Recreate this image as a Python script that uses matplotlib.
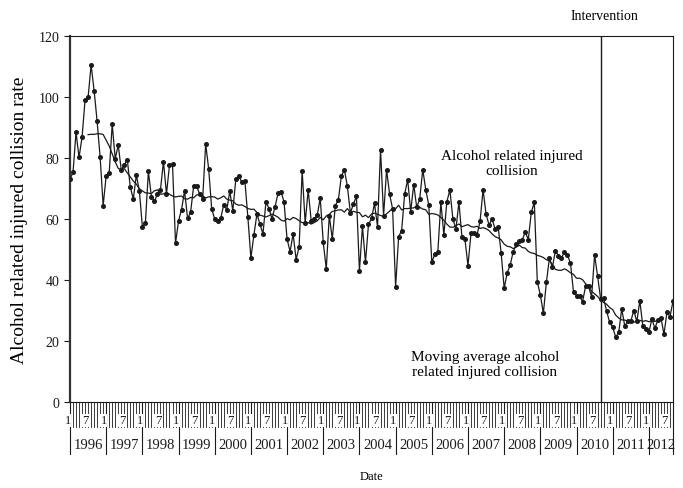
import numpy as np
import pandas as pd
import matplotlib
matplotlib.use("Agg")
import matplotlib.pyplot as plt
import matplotlib.transforms as mtransforms

# monthly rate, Jan 1996 .. Sep 2012
rate = [
    73.1, 75.3, 88.4, 80.2, 86.8, 99.1, 99.9, 110.5, 102.1, 92.0, 80.2, 64.4,
    74.2, 75.1, 91.1, 79.7, 84.3, 76.1, 77.7, 79.5, 70.4, 66.6, 74.4, 69.3,
    57.5, 58.6, 75.6, 67.3, 65.8, 68.2, 69.6, 78.8, 68.2, 77.7, 78.0, 52.0,
    59.4, 63.1, 69.3, 60.2, 62.2, 70.7, 70.7, 68.2, 66.6, 84.6, 76.4, 63.3,
    60.0, 59.4, 60.3, 64.7, 63.0, 69.1, 62.7, 73.1, 74.2, 72.0, 72.6, 60.5,
    47.2, 54.8, 61.6, 58.4, 55.1, 65.7, 63.4, 60.0, 64.0, 68.4, 69.0, 65.5,
    53.4, 49.3, 55.1, 46.7, 50.9, 75.8, 58.7, 69.5, 59.4, 60.0, 61.3, 66.8,
    52.3, 43.6, 61.1, 53.4, 64.4, 66.2, 74.0, 76.2, 70.7, 62.0, 64.9, 67.4,
    43.0, 57.6, 45.8, 58.2, 60.2, 65.1, 57.5, 82.7, 61.1, 76.1, 68.2, 63.3,
    37.8, 54.2, 56.2, 68.2, 72.9, 62.4, 71.3, 63.8, 66.6, 76.2, 69.6, 64.6,
    45.8, 48.5, 49.1, 65.5, 54.8, 65.7, 69.5, 60.0, 56.7, 65.5, 54.0, 53.3,
    44.7, 55.3, 55.4, 54.8, 59.2, 69.6, 61.6, 58.0, 60.0, 56.7, 57.5, 48.9,
    37.3, 42.3, 44.9, 49.3, 51.8, 52.9, 53.1, 55.8, 53.2, 62.2, 65.5, 39.4,
    35.1, 29.1, 39.2, 47.1, 44.2, 49.6, 48.0, 47.1, 49.3, 48.2, 45.5, 36.0,
    34.9, 34.7, 32.9, 37.9, 37.9, 34.5, 48.2, 41.2, 33.8, 34.0, 29.7, 26.1,
    24.5, 21.2, 22.8, 30.5, 24.9, 26.5, 26.5, 30.0, 26.4, 33.2, 24.8, 24.0,
    22.8, 27.2, 24.2, 26.9, 27.7, 22.2, 29.4, 28.0, 33.0,
]
years = list(range(1996, 2013))
month_labels = {0: "1", 6: "7"}
y_ticks = [0, 20, 40, 60, 80, 100, 120]
intervention_idx = 176  # Sep 2010

months = np.arange(len(rate))
moving_avg = pd.Series(rate).rolling(12, center=True).mean()

plt.rcParams["font.family"] = ["Liberation Serif", "DejaVu Serif"]
ink = "#1a1a1a"

fig = plt.figure(figsize=(6.83, 4.89), dpi=100)
ax = fig.add_axes([70 / 683, 1 - 403 / 489, 603 / 683, 366 / 489])

ax.plot(months, rate, color=ink, lw=0.9, marker="o", ms=2.6, zorder=3)
ax.plot(months, moving_avg, color=ink, lw=0.9, zorder=2)
ax.axvline(intervention_idx, color=ink, lw=1.0)

ax.set_ylim(0, 120)
ax.set_yticks(y_ticks)
ax.tick_params(axis="y", direction="out", length=4, labelsize=10, colors=ink)
ax.set_xticks([])
ax.set_ylabel("Alcohol related injured collision rate", fontsize=14, labelpad=8)

for side in ["top", "right", "bottom"]:
    ax.spines[side].set_linewidth(0.8)
    ax.spines[side].set_color(ink)
ax.spines["left"].set_linewidth(1.6)
ax.spines["left"].set_color("#333333")

# ── multi-level category axis (month ticks + year boxes) ───────────────────
trans = mtransforms.blended_transform_factory(ax.transData, ax.transAxes)
last = len(rate) - 1
for i in months:
    ax.plot([i, i], [0, -0.068], transform=trans, clip_on=False, color=ink, lw=0.6)

for k, yr in enumerate(years):
    start = 12 * k
    end = min(start + 12, last)
    ax.plot([start, start], [0, -0.142], transform=trans, clip_on=False, color=ink, lw=0.8)
    for off, lab in month_labels.items():
        if start + off <= last:
            ax.text(start + off - 0.8, -0.05, lab, transform=trans, ha="center", va="center",
                    fontsize=9, color=ink,
                    bbox=dict(facecolor="white", edgecolor="none", pad=0.3))
    ax.text((start + end) / 2, -0.115, str(yr), transform=trans, ha="center", va="center",
            fontsize=10.5, color=ink)
ax.plot([last, last], [0, -0.142], transform=trans, clip_on=False, color=ink, lw=0.8)

ax.text(0.5, -0.202, "Date", transform=ax.transAxes, ha="center", va="center", fontsize=9)

# ── annotations ────────────────────────────────────────────────────────────
ax.text(177.4, 126.6, "Intervention", ha="center", va="center", fontsize=10, clip_on=False)
ax.text(146.6, 78.4, "Alcohol related injured\ncollision", ha="center", va="center",
        fontsize=11, linespacing=1.15)
ax.text(137.6, 12.5, "Moving average alcohol\nrelated injured collision", ha="center",
        va="center", fontsize=11, linespacing=1.15)

ax.set_xlim(0, last)

plt.savefig("out.png", dpi=100)
